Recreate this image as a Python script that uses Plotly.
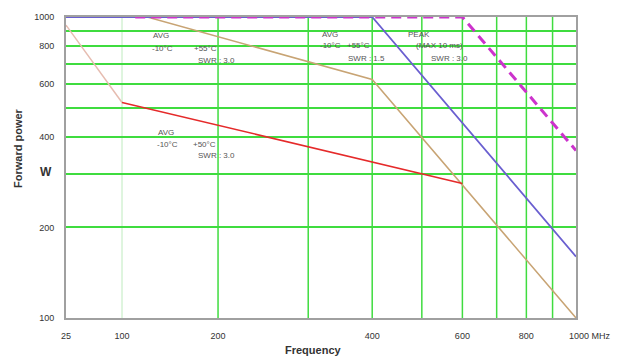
import numpy as np
import plotly.graph_objects as go

# ---------------- data ----------------
# frequency (MHz) / forward power (W)
avg55_swr3_lo_f = [25, 100]
avg55_swr3_lo_p = [940, 520]

avg50_swr3_f = [100, 600]
avg50_swr3_p = [520, 280]

avg55_swr3_f = [120, 400, 1000]
avg55_swr3_p = [1000, 620, 100]

avg55_swr15_f = [25, 400, 1000]
avg55_swr15_p = [1000, 1000, 160]

peak_f = [110, 600, 1000]
peak_p = [1000, 1000, 360]

x_tick_vals = [25, 100, 200, 400, 600, 800]
x_tick_text = ["25", "100", "200", "400", "600", "800"]
x_grid_major = [200, 300, 400, 500, 600, 700, 800, 900]
x_grid_faint = [100]

y_tick_vals = [100, 200, 300, 400, 500, 600, 700, 800, 900, 1000]
y_tick_text = ["100", "200", "", "400", "", "600", "", "800", "", "1000"]

# ---------------- broken frequency scale ----------------
SEG2 = 96 / 512.0   # width of 100..200 MHz segment (axis units)
SEG1 = 56 / 512.0   # width of 25..100 MHz segment


def xpos(f):
    f = np.asarray(f, dtype=float)
    hi = np.log10(np.maximum(f, 1e-9) / 200.0)
    mid = -SEG2 * np.log2(200.0 / np.maximum(f, 1e-9))
    lo = -SEG2 - SEG1 * np.log(100.0 / np.maximum(f, 1e-9)) / np.log(4.0)
    return np.where(f >= 200, hi, np.where(f >= 100, mid, lo))


FONT = "Liberation Sans, Arial, sans-serif"
GREEN = "#3fdc3f"

fig = go.Figure()

series = [
    (avg55_swr3_lo_f, avg55_swr3_lo_p, "#e6bcb0", 1.5, "solid"),
    (avg55_swr3_f, avg55_swr3_p, "#c8a474", 1.5, "solid"),
    (avg50_swr3_f, avg50_swr3_p, "#e52a2a", 1.5, "solid"),
    (avg55_swr15_f, avg55_swr15_p, "#6a5fd0", 1.8, "solid"),
    (peak_f, peak_p, "#cc33cc", 3, "10px,6px"),
]
for f, p, c, w, d in series:
    fig.add_trace(go.Scatter(
        x=xpos(f), y=p, mode="lines",
        line=dict(color=c, width=w, dash=d),
        showlegend=False, hoverinfo="skip", cliponaxis=False))

# vertical grid lines
shapes = []
for g in x_grid_major:
    shapes.append(dict(type="line", xref="x", yref="paper",
                       x0=float(xpos(g)), x1=float(xpos(g)), y0=0, y1=1,
                       line=dict(color=GREEN, width=1.5), layer="below"))
for g in x_grid_faint:
    shapes.append(dict(type="line", xref="x", yref="paper",
                       x0=float(xpos(g)), x1=float(xpos(g)), y0=0, y1=1,
                       line=dict(color="#c9efc9", width=1.2), layer="below"))

xr = [float(xpos(25)), float(xpos(1000))]

fig.update_layout(
    width=618, height=356,
    margin=dict(l=66, r=42, t=17, b=38),
    paper_bgcolor="white", plot_bgcolor="white",
    shapes=shapes,
    font=dict(family=FONT, size=9, color="#444"),
    xaxis=dict(
        range=xr, tickmode="array",
        tickvals=[float(v) for v in xpos(x_tick_vals)], ticktext=x_tick_text,
        showgrid=False, zeroline=False,
        showline=True, linecolor="#a0a0a0", linewidth=2, mirror=True,
        ticks="", ticklabelstandoff=8, layer="below traces",
        tickfont=dict(family=FONT, size=9, color="#333"),
    ),
    yaxis=dict(
        type="log", range=[2, 3], tickmode="array",
        tickvals=y_tick_vals, ticktext=y_tick_text,
        showgrid=True, gridcolor=GREEN, gridwidth=1.5, zeroline=False,
        showline=True, linecolor="#a0a0a0", linewidth=2, mirror=True,
        ticks="", ticklabelstandoff=8, layer="below traces",
        tickfont=dict(family=FONT, size=9, color="#333"),
    ),
)

ann = []


def txt(x, y, s, size=8, bold=False, anchor="left", color="#555", angle=0):
    ann.append(dict(xref="paper", yref="paper",
                    x=(x - 66) / 510.0,
                    y=(318 - y) / 301.0,
                    text=("<b>%s</b>" % s) if bold else s,
                    showarrow=False, xanchor=anchor, yanchor="middle",
                    textangle=angle,
                    font=dict(family=FONT, size=size, color=color)))


# curve labels
txt(151, 36, "AVG")
txt(150, 48, "-10°C")
txt(192, 48, "+55°C")
txt(196, 60, "SWR : 3.0")

txt(156, 132, "AVG")
txt(155, 144, "-10°C")
txt(191, 144, "+50°C")
txt(196, 155, "SWR : 3.0")

txt(320, 35, "AVG")
txt(318, 46, "-10°C")
txt(345, 46, "+55°C")
txt(346, 58, "SWR : 1.5")

txt(406, 35, "PEAK")
txt(414, 46, "(MAX 10 ms)")
txt(429, 58, "SWR : 3.0")

# axis labels
txt(567, 336, "1000 MHz", size=9, anchor="left", color="#333")
txt(46, 172, "W", size=12, bold=True, anchor="center", color="#333")
txt(18, 148, "Forward power", size=11, bold=True, anchor="center",
    color="#333", angle=-90)
txt(313, 350, "Frequency", size=11, bold=True, anchor="center", color="#333")

fig.update_layout(annotations=ann)

fig.write_html("out.html")
